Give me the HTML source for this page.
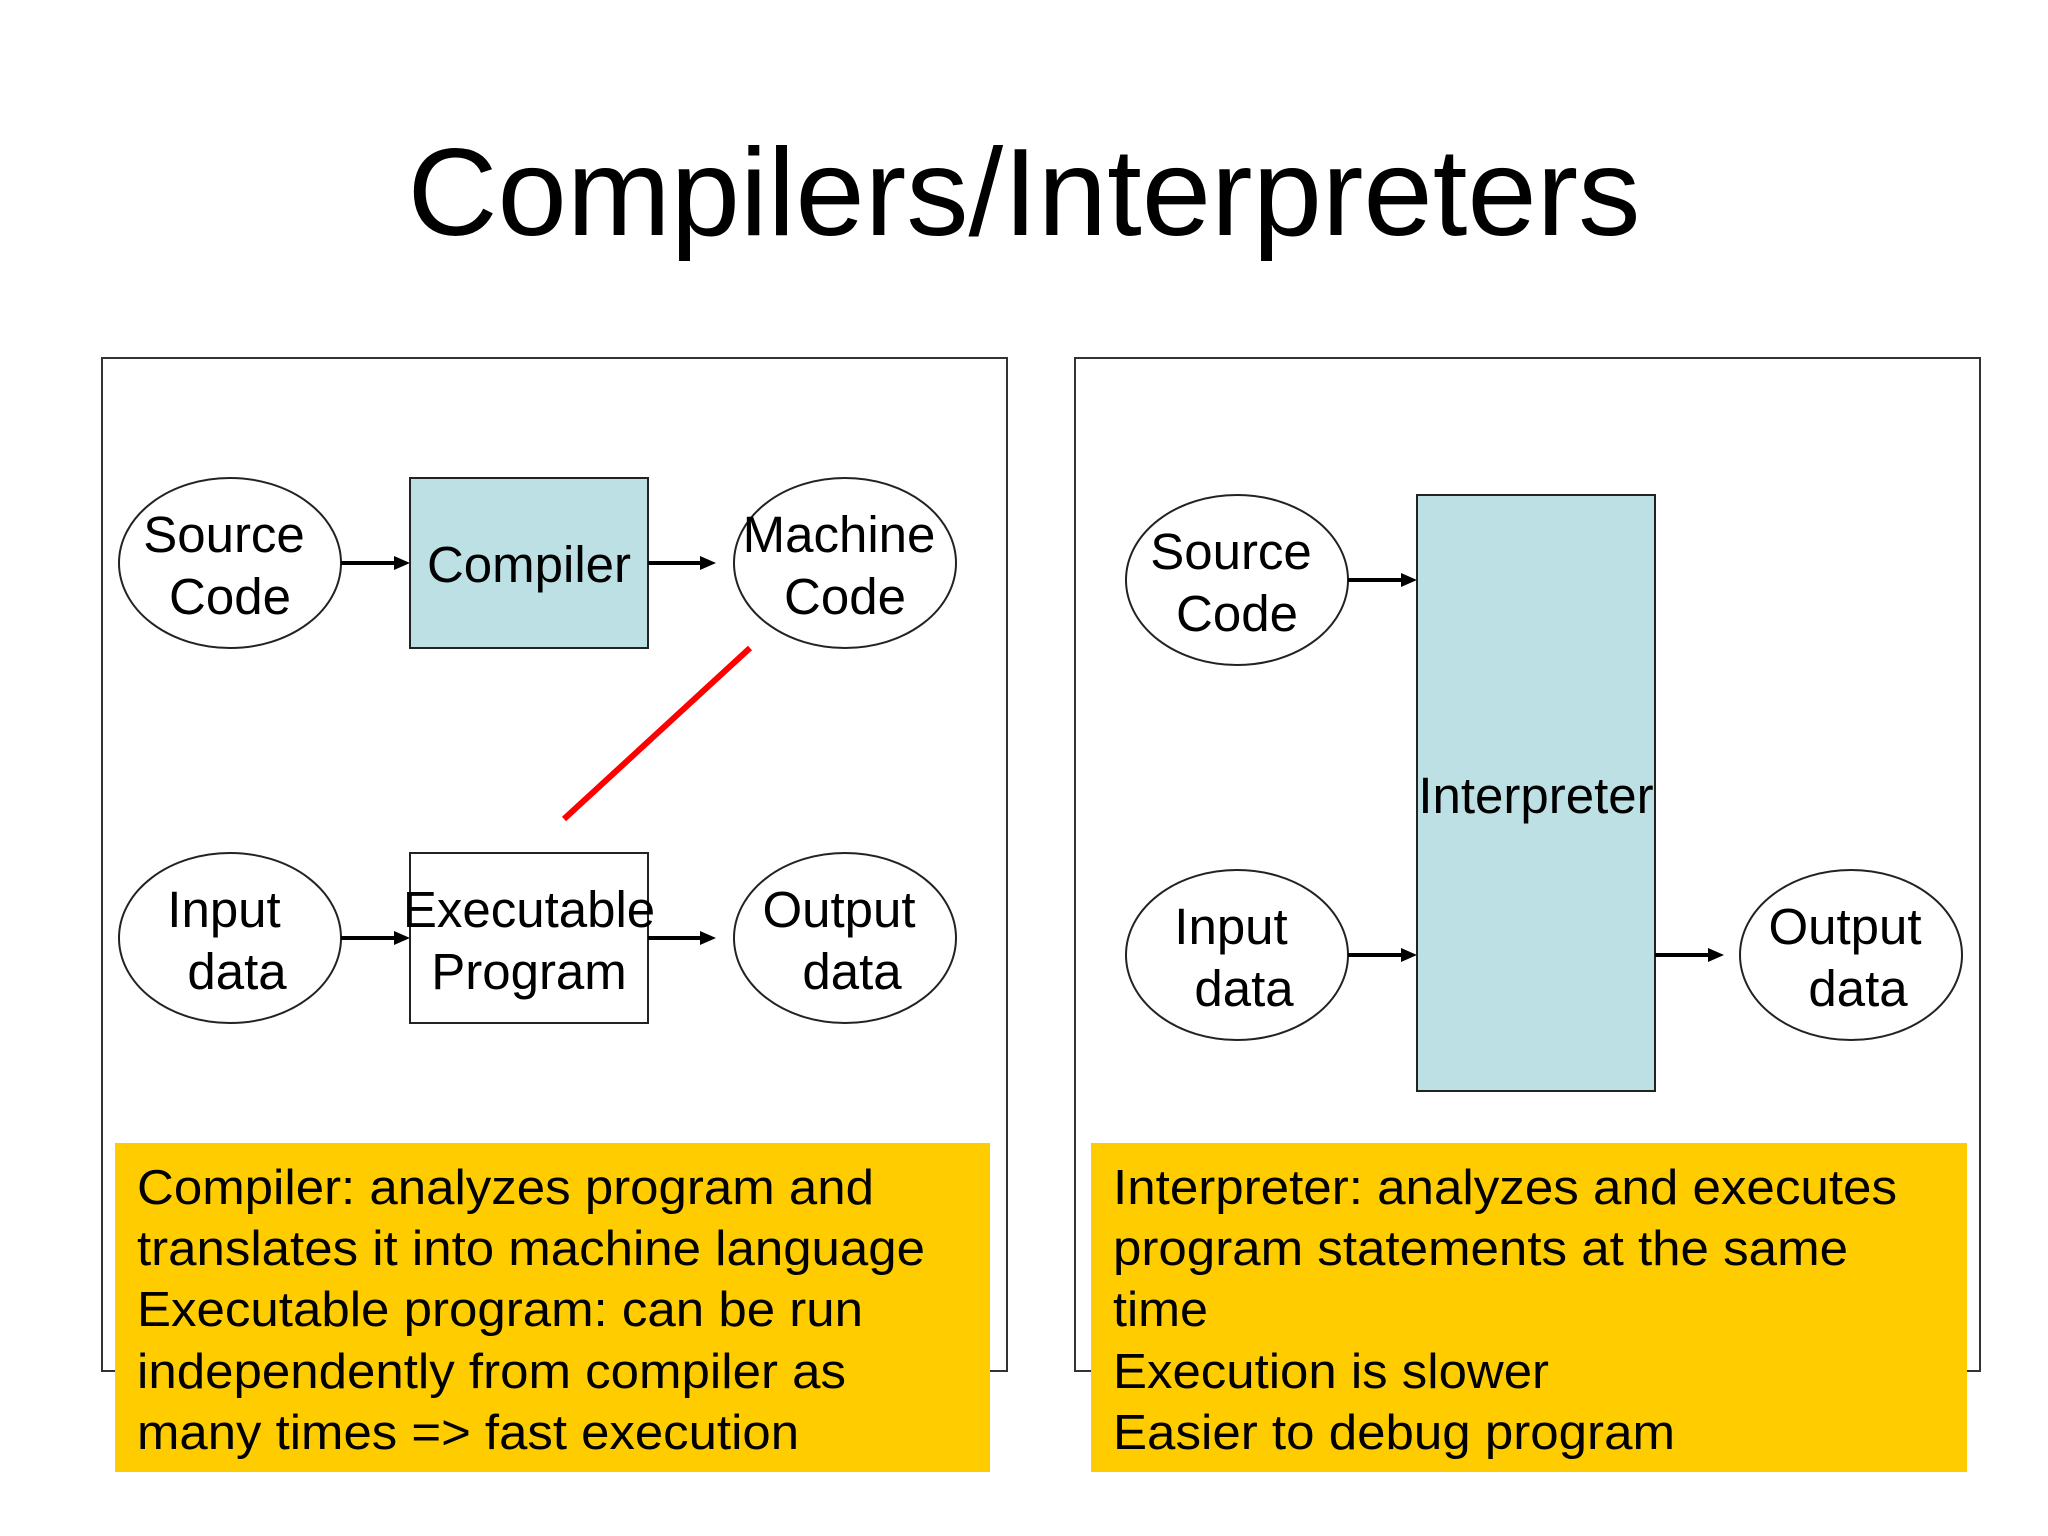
<!DOCTYPE html>
<html><head><meta charset="utf-8"><style>
html,body{margin:0;padding:0;background:#fff;}
svg{display:block;}
text{font-family:"Liberation Sans",Arial,sans-serif;fill:#000;}
</style></head><body>
<svg width="2048" height="1536" viewBox="0 0 2048 1536" xmlns="http://www.w3.org/2000/svg">
<text x="1024" y="235" font-size="124" text-anchor="middle" textLength="1233" lengthAdjust="spacingAndGlyphs">Compilers/Interpreters</text>

<rect x="102" y="358" width="905" height="1013" fill="#fff" stroke="#333" stroke-width="2"/>
<rect x="1075" y="358" width="905" height="1013" fill="#fff" stroke="#333" stroke-width="2"/>

<g stroke="#222" stroke-width="2" fill="#fff">
<ellipse cx="230" cy="563" rx="111" ry="85"/>
<ellipse cx="845" cy="563" rx="111" ry="85"/>
<ellipse cx="230" cy="938" rx="111" ry="85"/>
<ellipse cx="845" cy="938" rx="111" ry="85"/>
<rect x="410" y="478" width="238" height="170" fill="#BCE0E4"/>
<rect x="410" y="853" width="238" height="170"/>
<ellipse cx="1237" cy="580" rx="111" ry="85"/>
<ellipse cx="1237" cy="955" rx="111" ry="85"/>
<ellipse cx="1851" cy="955" rx="111" ry="85"/>
<rect x="1417" y="495" width="238" height="596" fill="#BCE0E4"/>
</g>
<g stroke="#000" stroke-width="4">
<line x1="341" y1="563" x2="396" y2="563"/>
<line x1="648" y1="563" x2="702" y2="563"/>
<line x1="341" y1="938" x2="396" y2="938"/>
<line x1="648" y1="938" x2="702" y2="938"/>
<line x1="1348" y1="580" x2="1403" y2="580"/>
<line x1="1348" y1="955" x2="1403" y2="955"/>
<line x1="1655" y1="955" x2="1710" y2="955"/>
</g>
<g fill="#000">
<path d="M394,556 L410,563 L394,570 z"/>
<path d="M700,556 L716,563 L700,570 z"/>
<path d="M394,931 L410,938 L394,945 z"/>
<path d="M700,931 L716,938 L700,945 z"/>
<path d="M1401,573 L1417,580 L1401,587 z"/>
<path d="M1401,948 L1417,955 L1401,962 z"/>
<path d="M1708,948 L1724,955 L1708,962 z"/>
</g>
<line x1="750" y1="648" x2="564" y2="819" stroke="#f00" stroke-width="6"/>

<g font-size="51" text-anchor="middle">
<text x="224" y="552">Source</text><text x="230" y="614">Code</text>
<text x="529" y="582">Compiler</text>
<text x="839" y="552">Machine</text><text x="845" y="614">Code</text>
<text x="224" y="927">Input</text><text x="237" y="989">data</text>
<text x="529" y="927">Executable</text><text x="529" y="989">Program</text>
<text x="839" y="927">Output</text><text x="852" y="989">data</text>
<text x="1231" y="569">Source</text><text x="1237" y="631">Code</text>
<text x="1231" y="944">Input</text><text x="1244" y="1006">data</text>
<text x="1845" y="944">Output</text><text x="1858" y="1006">data</text>
<text x="1536" y="813">Interpreter</text>
</g>

<rect x="115" y="1143" width="875" height="329" fill="#FFCC00"/>
<rect x="1091" y="1143" width="876" height="329" fill="#FFCC00"/>
<g font-size="49">
<text x="137" y="1204" textLength="737" lengthAdjust="spacingAndGlyphs">Compiler: analyzes program and</text>
<text x="137" y="1265" textLength="788" lengthAdjust="spacingAndGlyphs">translates it into machine language</text>
<text x="137" y="1326" textLength="726" lengthAdjust="spacingAndGlyphs">Executable program: can be run</text>
<text x="137" y="1388" textLength="709" lengthAdjust="spacingAndGlyphs">independently from compiler as</text>
<text x="137" y="1449" textLength="662" lengthAdjust="spacingAndGlyphs">many times =&gt; fast execution</text>
<text x="1113" y="1204" textLength="784" lengthAdjust="spacingAndGlyphs">Interpreter: analyzes and executes</text>
<text x="1113" y="1265" textLength="735" lengthAdjust="spacingAndGlyphs">program statements at the same</text>
<text x="1113" y="1326" textLength="95" lengthAdjust="spacingAndGlyphs">time</text>
<text x="1113" y="1388" textLength="436" lengthAdjust="spacingAndGlyphs">Execution is slower</text>
<text x="1113" y="1449" textLength="562" lengthAdjust="spacingAndGlyphs">Easier to debug program</text>
</g>
</svg>
</body></html>
